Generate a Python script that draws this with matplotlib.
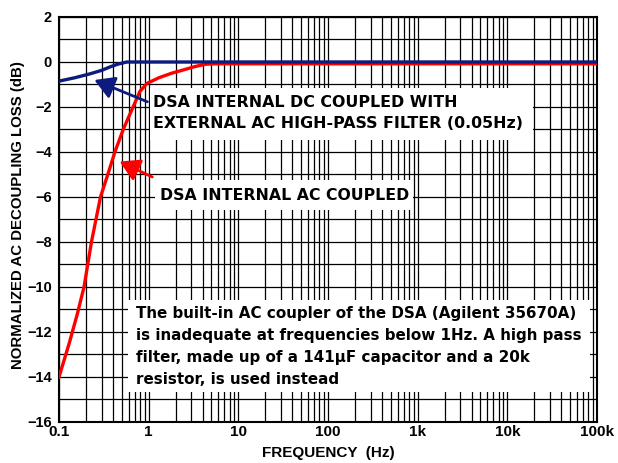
import numpy as np
import matplotlib.pyplot as plt
from matplotlib.patches import Rectangle
from matplotlib.ticker import FixedLocator, LogLocator, NullFormatter

# data
freq_ac = [0.1, 0.13, 0.16, 0.19, 0.23, 0.29, 0.35, 0.42, 0.52, 0.67, 0.8, 0.96, 1.3, 1.8, 2.4, 3.3, 4.3, 5.5, 10, 100, 1e3, 1e4, 1e5]
loss_ac = [-14, -12.5, -11.2, -10, -8, -6, -5, -4, -3, -2, -1.3, -0.95, -0.7, -0.5, -0.36, -0.2, -0.1, -0.08, -0.08, -0.08, -0.08, -0.08, -0.08]
freq_dc = [0.1, 0.15, 0.22, 0.3, 0.37, 0.45, 0.57, 1, 10, 100, 1e3, 1e4, 1e5]
loss_dc = [-0.85, -0.7, -0.53, -0.37, -0.22, -0.1, 0, 0, 0, 0, 0, 0, 0]

x_ticks = [0.1, 1, 10, 100, 1e3, 1e4, 1e5]
x_tick_labels = ['0.1', '1', '10', '100', '1k', '10k', '100k']
y_ticks = list(range(-16, 3, 2))

lab_font = 'Liberation Sans'

fig = plt.figure(figsize=(6.18, 4.63), dpi=100)
ax = fig.add_axes([0.0955, 0.0886, 0.8705, 0.8747])

ax.set_xscale('log')
ax.set_xlim(0.1, 1e5)
ax.set_ylim(-16, 2)

ax.xaxis.set_major_locator(FixedLocator(x_ticks))
ax.xaxis.set_minor_locator(LogLocator(base=10, subs=np.arange(2, 10)))
ax.xaxis.set_minor_formatter(NullFormatter())
ax.set_xticks(x_ticks)
ax.set_xticklabels(x_tick_labels)
ax.set_yticks(y_ticks)
ax.yaxis.set_minor_locator(FixedLocator(range(-16, 3)))

ax.grid(True, which='both', color='black', linewidth=0.9)
ax.tick_params(which='both', length=0, labelsize=11)
ax.tick_params(axis='y', labelsize=10.5)
for lab in ax.get_xticklabels() + ax.get_yticklabels():
    lab.set_fontfamily(lab_font)
    lab.set_fontweight('bold')
ax.tick_params(axis='x', pad=2)
ax.tick_params(axis='y', pad=5)
for s in ax.spines.values():
    s.set_linewidth(1.5)

ax.plot(freq_ac, loss_ac, color='#ff0000', linewidth=2.4, zorder=3)
ax.plot(freq_dc, loss_dc, color='#0d1a80', linewidth=2.4, zorder=4)

ax.set_xlabel('FREQUENCY  (Hz)', fontfamily=lab_font, fontweight='bold', fontsize=11, labelpad=5)
ax.set_ylabel('NORMALIZED AC DECOUPLING LOSS (dB)', fontfamily=lab_font, fontweight='bold', fontsize=10.8)
ax.yaxis.set_label_coords(-0.064, 0.51)

# white label boxes
boxes = [(0.169, 0.696, 0.712, 0.129), (0.178, 0.523, 0.480, 0.075), (0.128, 0.074, 0.859, 0.227)]
for x0, y0, w, h in boxes:
    ax.add_patch(Rectangle((x0, y0), w, h, transform=ax.transAxes, facecolor='white', edgecolor='none', zorder=2))

tfont = dict(fontfamily='DejaVu Sans', fontweight='bold', transform=ax.transAxes, va='center', ha='left', zorder=5)
ax.text(0.175, 0.790, 'DSA INTERNAL DC COUPLED WITH', fontsize=11.4, **tfont)
ax.text(0.175, 0.736, 'EXTERNAL AC HIGH-PASS FILTER (0.05Hz)', fontsize=11.4, **tfont)
ax.text(0.188, 0.560, 'DSA INTERNAL AC COUPLED', fontsize=11.3, **tfont)
note = ['The built-in AC coupler of the DSA (Agilent 35670A)',
        'is inadequate at frequencies below 1Hz. A high pass',
        'filter, made up of a 141\u00b5F capacitor and a 20k',
        'resistor, is used instead']
for i, line in enumerate(note):
    ax.text(0.143, 0.267 - i * 0.054, line, fontsize=10.9, **tfont)

ax.annotate('', xy=(0.061, 0.847), xytext=(0.169, 0.788), xycoords='axes fraction',
            arrowprops=dict(arrowstyle='-|>,head_length=1.2,head_width=0.7', color='#0d1a80', lw=2), zorder=5)
ax.annotate('', xy=(0.108, 0.646), xytext=(0.178, 0.602), xycoords='axes fraction',
            arrowprops=dict(arrowstyle='-|>,head_length=1.2,head_width=0.7', color='#ff0000', lw=2), zorder=5)

fig.savefig('out.png', dpi=100)
